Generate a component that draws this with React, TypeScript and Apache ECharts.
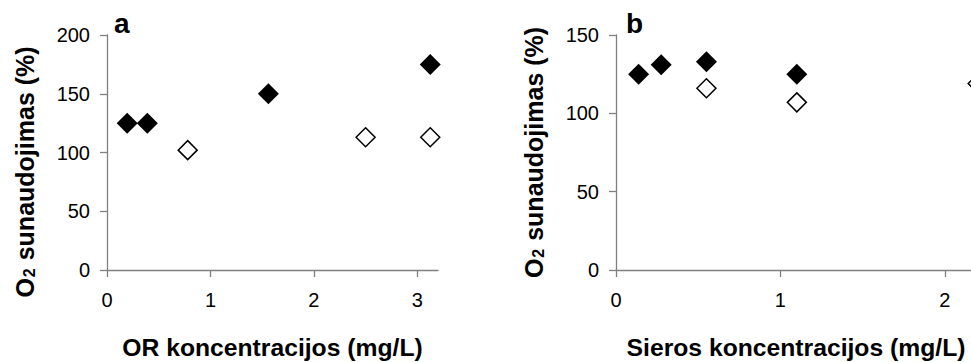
import React, { useEffect, useRef } from "react";
import * as echarts from "echarts";

const orConc = [0.195, 0.39, 1.56, 3.125];
const orFilled = [125, 125, 150, 175];
const orConcOpen = [0.78, 2.5, 3.125];
const orOpen = [102, 113, 113];

const sConc = [0.1375, 0.275, 0.55, 1.1];
const sFilled = [125, 131, 133, 125];
const sConcOpen = [0.55, 1.1, 2.2];
const sOpen = [116, 107, 119];

const xTicksA = [0, 1, 2, 3];
const xTicksB = [0, 1, 2];

const xTitleA = "OR koncentracijos (mg/L)";
const xTitleB = "Sieros koncentracijos (mg/L)";
const yTitle = "{o|O}{s|2}{o| sunaudojimas (%)}";

const FONT = "Liberation Sans, Arial, sans-serif";

const pairs = (xs: number[], ys: number[]) => xs.map((x, i) => [x, ys[i]]);

export default function App() {
  const ref = useRef<HTMLDivElement>(null);
  useEffect(() => {
    if (!ref.current) return;
    const chart = echarts.init(ref.current, undefined, { renderer: "svg" });
    const axisLine = { show: true, lineStyle: { color: "#808080", width: 1.3 } };
    const axisTick = { show: true, length: 7, lineStyle: { color: "#808080", width: 1.3 } };
    const label = { color: "#000", fontSize: 20, fontFamily: FONT };
    const rich = {
      o: { fontSize: 25, fontWeight: "bold", fontFamily: FONT, fill: "#000", color: "#000" },
      s: { fontSize: 16, fontWeight: "bold", fontFamily: FONT, fill: "#000", color: "#000", verticalAlign: "bottom", padding: [0, 1, 0, 1] },
    };
    const titleStyle = { fontSize: 24.7, fontWeight: "bold", fontFamily: FONT, fill: "#000", align: "center", verticalAlign: "middle" };
    const filled = { symbol: "diamond", symbolSize: 21, itemStyle: { color: "#000", opacity: 1 } };
    const open = { symbol: "diamond", symbolSize: 19, itemStyle: { color: "#fff", borderColor: "#000", borderWidth: 1.5, opacity: 1 } };
    chart.setOption({
      animation: false,
      grid: [
        { left: 107, top: 35, width: 331, height: 235 },
        { left: 616, top: 35, width: 411, height: 235 },
      ],
      xAxis: [
        {
          gridIndex: 0, type: "value", min: 0, max: 3.2, interval: 1,
          axisLine, splitLine: { show: false },
          axisTick: { ...axisTick, customValues: xTicksA },
          axisLabel: { ...label, margin: 20, customValues: xTicksA },
        },
        {
          gridIndex: 1, type: "value", min: 0, max: 2.5, interval: 1,
          axisLine, splitLine: { show: false },
          axisTick: { ...axisTick, customValues: xTicksB },
          axisLabel: { ...label, margin: 20, customValues: xTicksB },
        },
      ],
      yAxis: [
        {
          gridIndex: 0, type: "value", min: 0, max: 200, interval: 50,
          axisLine, axisTick, splitLine: { show: false },
          axisLabel: { ...label, margin: 17 },
        },
        {
          gridIndex: 1, type: "value", min: 0, max: 150, interval: 50,
          axisLine, axisTick, splitLine: { show: false },
          axisLabel: { ...label, margin: 17 },
        },
      ],
      graphic: [
        { type: "text", left: 114, top: 9, style: { text: "a", fontSize: 28, fontWeight: "bold", fontFamily: FONT, fill: "#000" } },
        { type: "text", left: 626, top: 9, style: { text: "b", fontSize: 28, fontWeight: "bold", fontFamily: FONT, fill: "#000" } },
        { type: "text", x: 272.5, y: 347, style: { ...titleStyle, text: xTitleA } },
        { type: "text", x: 796, y: 347, style: { ...titleStyle, text: xTitleB } },
        { type: "text", x: 25, y: 172, rotation: Math.PI / 2, style: { text: yTitle, rich, align: "center", verticalAlign: "middle" } },
        { type: "text", x: 534, y: 152.5, rotation: Math.PI / 2, style: { text: yTitle, rich, align: "center", verticalAlign: "middle" } },
      ],
      series: [
        { type: "scatter", xAxisIndex: 0, yAxisIndex: 0, data: pairs(orConcOpen, orOpen), ...open },
        { type: "scatter", xAxisIndex: 0, yAxisIndex: 0, data: pairs(orConc, orFilled), ...filled },
        { type: "scatter", xAxisIndex: 1, yAxisIndex: 1, data: pairs(sConcOpen, sOpen), ...open },
        { type: "scatter", xAxisIndex: 1, yAxisIndex: 1, data: pairs(sConc, sFilled), ...filled },
      ],
    });
    return () => chart.dispose();
  }, []);
  return (
    <div style={{ position: "absolute", left: 0, top: 0, width: 971, height: 362, overflow: "hidden" }}>
      <div ref={ref} style={{ width: 1040, height: 362 }} />
    </div>
  );
}
